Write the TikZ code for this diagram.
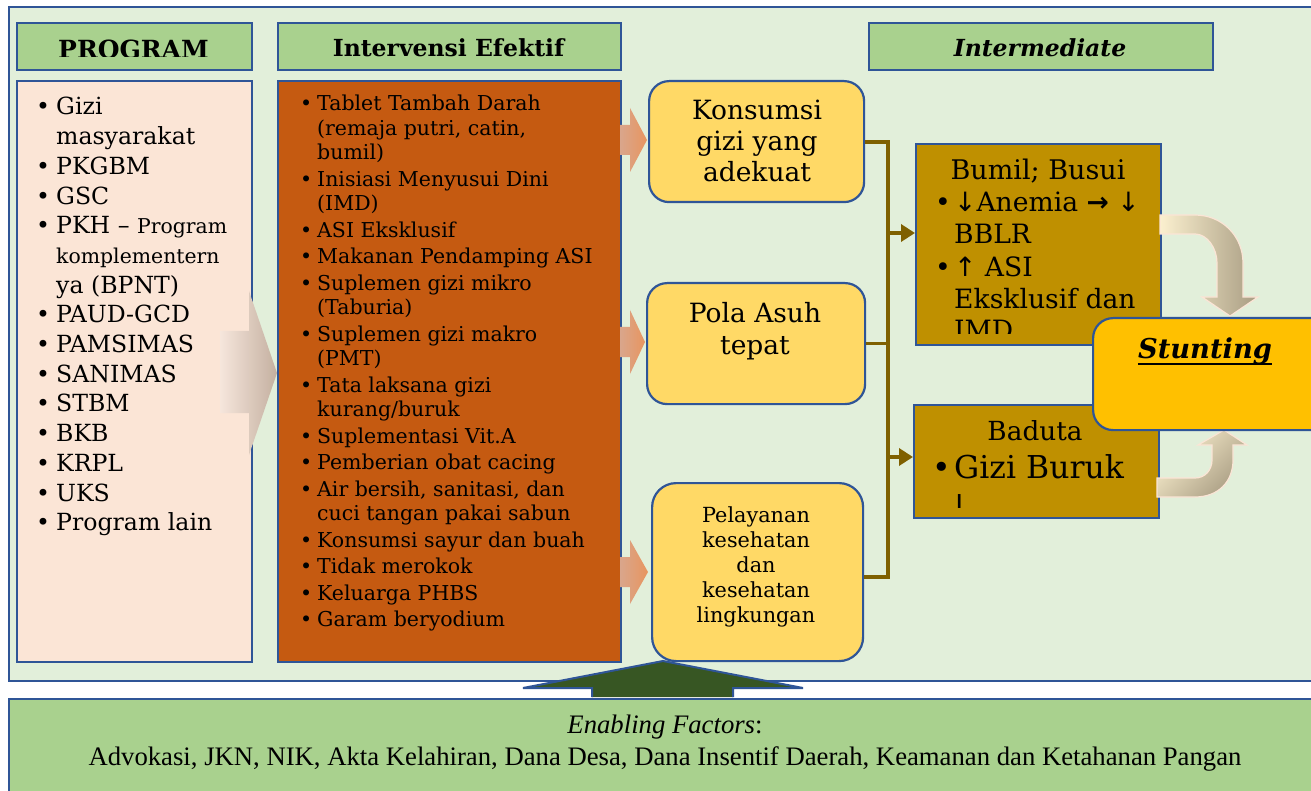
\documentclass[tikz,border=0pt]{standalone}
\usepackage{fontspec}
\setmainfont{DejaVu Serif}
\newfontfamily\tnr{Liberation Serif}
\newfontfamily\dvs{DejaVu Sans}
\usetikzlibrary{arrows.meta}
\definecolor{panel}{HTML}{E2EFDA}
\definecolor{bord}{HTML}{2F5597}
\definecolor{hdr}{HTML}{A9D18E}
\definecolor{progfill}{HTML}{FBE5D6}
\definecolor{orng}{HTML}{C55A11}
\definecolor{ylw}{HTML}{FFD966}
\definecolor{gold}{HTML}{BF9000}
\definecolor{stun}{HTML}{FFC000}
\definecolor{olive}{HTML}{7F6000}
\definecolor{dgreen}{HTML}{375623}
\definecolor{salL}{HTML}{D9A68C}
\definecolor{salR}{HTML}{E8955F}
\definecolor{bigL}{HTML}{F6E6DC}
\definecolor{bigR}{HTML}{C4B0A0}
\definecolor{curL}{HTML}{FBF0CF}
\definecolor{curR}{HTML}{A89C82}
\newcommand{\mybul}[1][17pt]{\makebox[#1][l]{\textbullet}}
\newcommand{\myind}[1][17pt]{\hspace*{#1}}
\begin{document}
\begin{tikzpicture}[x=1pt,y=-1pt,
  bx/.style={draw=bord, line width=2.2pt, anchor=north west, inner sep=0pt},
  txt/.style={inner sep=0pt, text=black},
  conn/.style={draw=olive, line width=3.5pt, line join=miter},
  salarrow/.style={left color=salL, right color=salR},
  curarrow/.style={draw=progfill, line width=1.2pt, shading angle=135, left color=curL, right color=curR}
]
\useasboundingbox (0,0) rectangle (1311,791);
\fill[white] (0,0) rectangle (1311,791);

% panels
\node[bx, fill=panel, minimum width=1330pt, minimum height=674pt] (panel) at (8,6) {};
\node[bx, fill=hdr, minimum width=1330pt, minimum height=110pt] (enab) at (8,698) {};

% headers
\node[bx, fill=hdr, minimum width=235pt, minimum height=47pt] (hprog) at (16,22) {};
\node[bx, fill=hdr, minimum width=343pt, minimum height=47pt] (hint) at (277,22) {};
\node[bx, fill=hdr, minimum width=344pt, minimum height=47pt] (hinter) at (868,22) {};
\begin{scope}
\clip (16,22) rectangle (251,57);
\node[txt, anchor=base] (hprogT) at (133.5,59) {\fontsize{25}{28}\selectfont\bfseries PROGRAM};
\end{scope}
\node[txt, anchor=base] (hintT) at (448.5,57) {\fontsize{23.5}{28}\selectfont\bfseries Intervensi Efektif};
\node[txt, anchor=base] (hinterT) at (1040,57) {\fontsize{23.5}{28}\selectfont\bfseries\itshape Intermediate};

% program list
\node[bx, fill=progfill, minimum width=235pt, minimum height=581pt] (prog) at (16,80) {};
\node[txt, anchor=base west] (progL) at (36,115) {\begin{minipage}[t]{215pt}\fontsize{23.6}{29.7}\selectfont\raggedright
\mybul[20pt]Gizi\\
\myind[20pt]masyarakat\\
\mybul[20pt]PKGBM\\
\mybul[20pt]GSC\\
\mybul[20pt]PKH -- {\fontsize{20.4}{29.7}\selectfont Program}\\
\myind[20pt]{\fontsize{20.4}{29.7}\selectfont komplementern}\\
\myind[20pt]ya (BPNT)\\
\mybul[20pt]PAUD-GCD\\
\mybul[20pt]PAMSIMAS\\
\mybul[20pt]SANIMAS\\
\mybul[20pt]STBM\\
\mybul[20pt]BKB\\
\mybul[20pt]KRPL\\
\mybul[20pt]UKS\\
\mybul[20pt]Program lain
\end{minipage}};

% intervensi list
\node[bx, fill=orng, minimum width=343pt, minimum height=581pt] (interv) at (277,80) {};
\node[txt, anchor=base west] (intervL) at (300,111) {\begin{minipage}[t]{318pt}\fontsize{20.5}{24.5}\selectfont\raggedright
\mybul Tablet Tambah Darah\\
\myind(remaja putri, catin,\\
\myind bumil)\\[2pt]
\mybul Inisiasi Menyusui Dini\\
\myind(IMD)\\[2pt]
\mybul ASI Eksklusif\\[2pt]
\mybul Makanan Pendamping ASI\\[2pt]
\mybul Suplemen gizi mikro\\
\myind(Taburia)\\[2pt]
\mybul Suplemen gizi makro\\
\myind(PMT)\\[2pt]
\mybul Tata laksana gizi\\
\myind kurang/buruk\\[2pt]
\mybul Suplementasi Vit.A\\[2pt]
\mybul Pemberian obat cacing\\[2pt]
\mybul Air bersih, sanitasi, dan\\
\myind cuci tangan pakai sabun\\[2pt]
\mybul Konsumsi sayur dan buah\\[2pt]
\mybul Tidak merokok\\[2pt]
\mybul Keluarga PHBS\\[2pt]
\mybul Garam beryodium
\end{minipage}};

% big arrow program -> intervensi
\shade[left color=bigL, right color=bigR] (220,331) -- (249,331) -- (249,291) -- (277,373) -- (249,455) -- (249,413) -- (220,413) -- cycle;

% yellow boxes
\node[bx, fill=ylw, rounded corners=20pt, minimum width=215pt, minimum height=121pt] (konsumsi) at (648,80) {};
\node[bx, fill=ylw, rounded corners=20pt, minimum width=218pt, minimum height=121pt] (pola) at (646,282) {};
\node[bx, fill=ylw, rounded corners=24pt, minimum width=211pt, minimum height=178pt] (pelayanan) at (651,482) {};
\node[txt, anchor=base] (konsumsiT) at (757,120) {\begin{minipage}[t]{210pt}\centering\fontsize{26.5}{31}\selectfont Konsumsi\\ gizi yang\\ adekuat\end{minipage}};
\node[txt, anchor=base] (polaT) at (755,323) {\begin{minipage}[t]{210pt}\centering\fontsize{26.5}{32}\selectfont Pola Asuh\\ tepat\end{minipage}};
\node[txt, anchor=base] (pelayananT) at (756,522) {\begin{minipage}[t]{200pt}\centering\fontsize{20.8}{25}\selectfont Pelayanan\\ kesehatan\\ dan\\ kesehatan\\ lingkungan\end{minipage}};

% salmon block arrows
\shade[salarrow] (620,125) -- (630,125) -- (630,108) -- (647,140) -- (630,172) -- (630,155) -- (620,155) -- cycle;
\shade[salarrow] (620,327) -- (630,327) -- (630,310) -- (645,342) -- (630,374) -- (630,357) -- (620,357) -- cycle;
\shade[salarrow] (620,557) -- (630,557) -- (630,540) -- (648,572) -- (630,604) -- (630,587) -- (620,587) -- cycle;

% intermediate boxes
\node[bx, fill=gold, minimum width=245pt, minimum height=201pt] (bumil) at (915,143) {};
\node[bx, fill=gold, minimum width=245pt, minimum height=113pt] (baduta) at (913,404) {};

% connectors
\coordinate (jt) at (888,142);
\coordinate (jb) at (888,577);
\coordinate (ja) at (888,233);
\coordinate (jc) at (888,457);
\draw[conn] (konsumsi.east |- jt) -- (jt) -- (jb) -- (pelayanan.east |- jb);
\draw[conn] (pola.east) -- (pola.east -| jt);
\draw[conn, -{Triangle[length=14pt,width=17pt]}] (ja) -- (ja -| bumil.west);
\draw[conn, -{Triangle[length=14pt,width=17pt]}] (jc) -- (jc -| baduta.west);

% texts of intermediate boxes (clipped)
\begin{scope}
\clip (915,143) rectangle (1160,334);
\node[txt, anchor=base] (bumilH) at (1038,180) {\fontsize{27}{31}\selectfont Bumil; Busui};
\node[txt, anchor=base west] (bumilL) at (935,212) {\begin{minipage}[t]{224pt}\fontsize{26.6}{31.5}\selectfont\raggedright
\mybul[19pt]{\dvs ↓}Anemia {\dvs\bfseries →} {\dvs ↓}\\
\myind[19pt]BBLR\\[2pt]
\mybul[19pt]{\dvs ↑} ASI\\
\myind[19pt]Eksklusif dan\\
\myind[19pt]IMD
\end{minipage}};
\end{scope}
\begin{scope}
\clip (913,404) rectangle (1158,507);
\node[txt, anchor=base] (badutaH) at (1035,440) {\fontsize{26.3}{31}\selectfont Baduta};
\node[txt, anchor=base west] (badutaL) at (932,478) {\fontsize{31.5}{38}\selectfont\makebox[22pt][l]{\textbullet}Gizi Buruk};
\node[txt, anchor=base] (badutaA) at (960,517) {\fontsize{31.5}{38}\selectfont\dvs ↓};
\end{scope}

% curved arrows
\shade[curarrow] (1160,215) -- (1195,215) .. controls (1222,215) and (1243,236) .. (1243,263) -- (1243,297) -- (1258,297) -- (1230,316) -- (1202,297) -- (1217,297) -- (1217,263) .. controls (1217,248) and (1207,234) .. (1195,234) -- (1160,234) -- cycle;
\shade[curarrow, shading angle=45] (1157,497) -- (1195,497) .. controls (1218,497) and (1233,482) .. (1233,460) -- (1233,445) -- (1247,445) -- (1224,430) -- (1198,445) -- (1212,445) -- (1212,460) .. controls (1212,470) and (1205,478) .. (1195,478) -- (1157,478) -- cycle;

% stunting
\node[bx, fill=stun, rounded corners=20pt, minimum width=240pt, minimum height=112pt] (stunting) at (1092,317) {};
\node[txt, anchor=base] (stT) at (1205,359) {\fontsize{27.3}{34}\selectfont\bfseries\itshape Stunting};
\draw[line width=2.2pt] ([yshift=-5pt]stT.base west) -- ([yshift=-5pt]stT.base east);

% enabling arrow
\filldraw[fill=dgreen, draw=bord, line width=2pt] (592,697) -- (592,688) -- (523,688) -- (663,661) -- (803,688) -- (733,688) -- (733,697);

% enabling text
\node[txt, anchor=base] (enabT) at (665,733) {\tnr\fontsize{26.7}{30}\selectfont\textit{Enabling Factors}:};
\node[txt, anchor=base] (enabL) at (665,765) {\tnr\fontsize{26.7}{30}\selectfont Advokasi, JKN, NIK, Akta Kelahiran, Dana Desa, Dana Insentif Daerah, Keamanan dan Ketahanan Pangan};
\end{tikzpicture}
\end{document}
